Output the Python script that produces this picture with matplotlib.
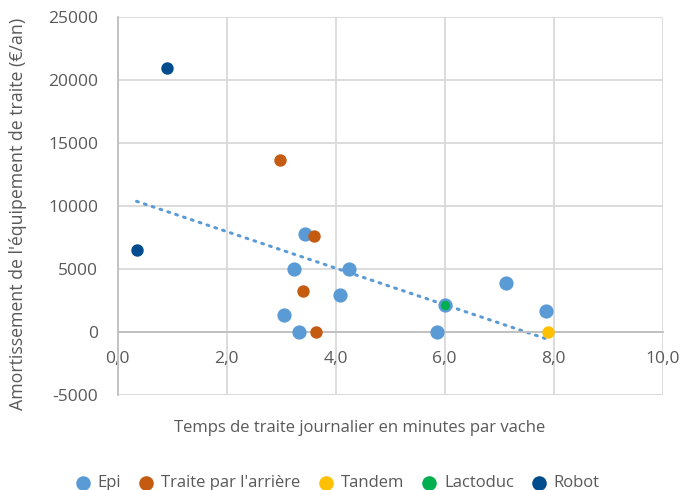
import matplotlib
matplotlib.use('Agg')
import matplotlib.pyplot as plt
import numpy as np

plt.rcParams['font.family'] = ['Open Sans', 'DejaVu Sans']

# donnees
epi_x = [3.44, 3.23, 4.24, 4.09, 3.06, 3.32, 5.86, 7.13, 7.86, 6.01]
epi_y = [7750, 5000, 5000, 2900, 1300, 0, 0, 3900, 1650, 2100]
arriere_x = [2.98, 3.61, 3.41, 3.65]
arriere_y = [13600, 7600, 3250, 0]
tandem_x = [7.89]
tandem_y = [0]
lacto_x = [6.0]
lacto_y = [2100]
robot_x = [0.90, 0.35]
robot_y = [20900, 6500]

xticks = [0, 2, 4, 6, 8, 10]
yticks = [-5000, 0, 5000, 10000, 15000, 20000, 25000]

gray_txt = '#595959'
grid_col = '#d9d9d9'

fig = plt.figure(figsize=(6.83, 4.90), dpi=100)
ax = fig.add_axes([117.5 / 683, 1 - 394.7 / 490, (662.7 - 117.5) / 683, (394.7 - 16.7) / 490])

ax.scatter(epi_x, epi_y, s=105, color='#5b9bd5', label='Epi', zorder=3, linewidths=0)
ax.scatter(arriere_x, arriere_y, s=80, color='#c55a11', label="Traite par l'arrière", zorder=4, linewidths=0)
ax.scatter(tandem_x, tandem_y, s=80, color='#ffc000', label='Tandem', zorder=4, linewidths=0)
ax.scatter(lacto_x, lacto_y, s=45, color='#00b050', label='Lactoduc', zorder=5, linewidths=0)
ax.scatter(robot_x, robot_y, s=80, color='#004c8c', label='Robot', zorder=4, linewidths=0)

# courbe de tendance lineaire sur tous les points
all_x = np.array(epi_x + arriere_x + tandem_x + lacto_x + robot_x)
all_y = np.array(epi_y + arriere_y + tandem_y + lacto_y + robot_y)
a, b = np.polyfit(all_x, all_y, 1)
tx = np.array([all_x.min(), all_x.max()])
ax.plot(tx, a * tx + b, color='#5b9bd5', lw=2.2, ls=(0, (0.6, 2.1)), dash_capstyle='round', zorder=2)

ax.set_xlim(0, 10)
ax.set_ylim(-5000, 25000)
ax.set_xticks(xticks)
ax.set_yticks(yticks)
ax.set_xticklabels([('%.1f' % v).replace('.', ',') for v in xticks])
ax.set_yticklabels([str(v) for v in yticks])
ax.grid(True, color=grid_col, lw=1.3)
ax.set_axisbelow(True)
for s in ['top', 'right']:
    ax.spines[s].set_visible(False)
ax.spines['left'].set_color('#bfbfbf')
ax.spines['left'].set_linewidth(1.3)
ax.spines['bottom'].set_position(('data', 0))
ax.spines['bottom'].set_color('#bfbfbf')
ax.spines['bottom'].set_linewidth(1.3)
ax.axhline(-5000, color=grid_col, lw=1.3, zorder=0)
ax.tick_params(length=0, labelsize=12.5, colors=gray_txt)
ax.tick_params(axis='y', pad=14)
ax.tick_params(axis='x', pad=14)

fig.text(360 / 683, 1 - 428 / 490, 'Temps de traite journalier en minutes par vache',
         ha='center', va='center', fontsize=12, color=gray_txt)
fig.text(18 / 683, 1 - 214 / 490, "Amortissement de l'équipement de traite (€/an)",
         ha='center', va='center', rotation=90, fontsize=12.8, color=gray_txt)

leg = fig.legend(loc='center', bbox_to_anchor=(338 / 683, 1 - 483 / 490), ncol=5, frameon=False,
                 fontsize=12, handlelength=0.8, handletextpad=0.5, columnspacing=1.1)
for h in leg.legend_handles:
    h.set_sizes([110])
for t in leg.get_texts():
    t.set_color(gray_txt)

fig.savefig('out.png', dpi=100)
